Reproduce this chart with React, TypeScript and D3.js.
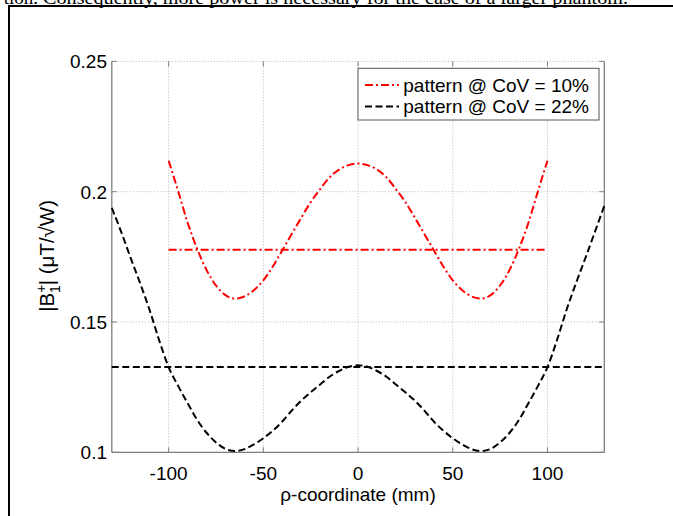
import React from "react";
import * as d3 from "d3";

const redX = [-100,-95,-90,-85,-80,-75,-70,-65,-60,-55,-50,-45,-40,-35,-30,-25,-20,-15,-10,-5,0,5,10,15,20,25,30,35,40,45,50,55,60,65,70,75,80,85,90,95,100];
const redY = [0.2119,0.2003,0.1882,0.1782,0.1700,0.1640,0.1603,0.1590,0.1598,0.1622,0.1660,0.1713,0.1775,0.1838,0.1900,0.1960,0.2010,0.2055,0.2085,0.2102,0.2108,0.2102,0.2085,0.2055,0.2010,0.1960,0.1900,0.1838,0.1775,0.1713,0.1660,0.1622,0.1598,0.1590,0.1603,0.1640,0.1700,0.1782,0.1882,0.2003,0.2119];
const blackX = [-130,-125,-120,-115,-110,-105,-100,-95,-90,-85,-80,-75,-70,-65,-60,-55,-50,-45,-40,-35,-30,-25,-20,-15,-10,-5,0,5,10,15,20,25,30,35,40,45,50,55,60,65,70,75,80,85,90,95,100,105,110,115,120,125,130];
const blackY = [0.1938,0.1845,0.1745,0.1648,0.1545,0.1430,0.1327,0.1255,0.1189,0.1125,0.1075,0.1038,0.1013,0.1005,0.1012,0.1030,0.1054,0.1083,0.1118,0.1160,0.1198,0.1230,0.1260,0.1290,0.1312,0.1328,0.1334,0.1328,0.1312,0.1290,0.1260,0.1230,0.1198,0.1160,0.1118,0.1083,0.1054,0.1030,0.1012,0.1005,0.1013,0.1038,0.1075,0.1125,0.1189,0.1255,0.1327,0.1430,0.1545,0.1648,0.1745,0.1845,0.1946];
const redMean = 0.1777;
const blackMean = 0.1327;
const redRange = [-100, 100];
const blackRange = [-130, 130];
const xTicks = [-100, -50, 0, 50, 100];
const yTicks = [0.1, 0.15, 0.2, 0.25];
const yTickLabels = ["0.1", "0.15", "0.2", "0.25"];
const legendLabels = ["pattern @ CoV = 10%", "pattern @ CoV = 22%"];

const L = 111.8, R = 604.3, T = 61.4, B = 452.3;
const font = "Arial, 'Liberation Sans', sans-serif";

export default function App() {
  const x = d3.scaleLinear().domain([-130, 130]).range([L, R]);
  const y = d3.scaleLinear().domain([0.1, 0.25]).range([B, T]);
  const line = d3.line<[number, number]>().x(d => x(d[0])).y(d => y(d[1])).curve(d3.curveMonotoneX);
  const redPts = redX.map((v, i) => [v, redY[i]] as [number, number]);
  const blackPts = blackX.map((v, i) => [v, blackY[i]] as [number, number]);
  const redDash = "8,3,2,3";
  const blackDash = "7,3.5";
  const axisCol = "#7f7f7f";
  const gridCol = "#b4b4b4";
  return (
    <svg width={673} height={516} style={{ position: "absolute", left: 0, top: 0, background: "#fff" }}>
      <rect x={0} y={0} width={673} height={516} fill="#fff" />
      {/* clipped caption text from page */}
      <text x={38} y={3.5} fontFamily="'Liberation Serif', 'Times New Roman', serif" fontSize={19} textAnchor="end">tion.</text>
      <text x={43} y={3.5} fontFamily="'Liberation Serif', 'Times New Roman', serif" fontSize={19} textLength={585} lengthAdjust="spacingAndGlyphs">Consequently, more power is necessary for the case of a larger phantom.</text>
      {/* outer frame */}
      <line x1={9} y1={6} x2={680} y2={6} stroke="#000" strokeWidth={2} />
      <line x1={9} y1={5} x2={9} y2={520} stroke="#000" strokeWidth={2} />
      {/* grid */}
      {xTicks.map(t => (
        <line key={"gx" + t} x1={x(t)} x2={x(t)} y1={T} y2={B} stroke={gridCol} strokeWidth={1} strokeDasharray="1,2" />
      ))}
      {yTicks.map(t => (
        <line key={"gy" + t} x1={L} x2={R} y1={y(t)} y2={y(t)} stroke={gridCol} strokeWidth={1} strokeDasharray="1,2" />
      ))}
      {/* axes */}
      <line x1={L} x2={L} y1={T} y2={B} stroke={axisCol} strokeWidth={1.3} />
      <line x1={R} x2={R} y1={T} y2={B} stroke={axisCol} strokeWidth={1.3} />
      <line x1={L} x2={R} y1={B} y2={B} stroke={axisCol} strokeWidth={1.3} />
      {xTicks.map(t => (
        <g key={"tx" + t}>
          <line x1={x(t)} x2={x(t)} y1={B} y2={B - 5} stroke={axisCol} />
          <line x1={x(t)} x2={x(t)} y1={T} y2={T + 5} stroke={axisCol} />
          <text x={x(t)} y={480.3} textAnchor="middle" fontFamily={font} fontSize={19}>{t < 0 ? "-" + Math.abs(t) : String(t)}</text>
        </g>
      ))}
      {yTicks.map((t, i) => (
        <g key={"ty" + t}>
          <line x1={L} x2={L + 5} y1={y(t)} y2={y(t)} stroke={axisCol} />
          <line x1={R} x2={R - 5} y1={y(t)} y2={y(t)} stroke={axisCol} />
          <text x={107} y={y(t) + 6.8} textAnchor="end" fontFamily={font} fontSize={19}>{yTickLabels[i]}</text>
        </g>
      ))}
      {/* data */}
      <line x1={x(redRange[0])} x2={x(redRange[1])} y1={y(redMean)} y2={y(redMean)} stroke="#ff0000" strokeWidth={2} strokeDasharray={redDash} />
      <path d={line(redPts) || ""} fill="none" stroke="#ff0000" strokeWidth={2} strokeDasharray={redDash} />
      <line x1={x(blackRange[0])} x2={x(blackRange[1])} y1={y(blackMean)} y2={y(blackMean)} stroke="#000" strokeWidth={2} strokeDasharray={blackDash} />
      <path d={line(blackPts) || ""} fill="none" stroke="#000" strokeWidth={2} strokeDasharray={blackDash} />
      {/* axis labels */}
      <text x={358} y={501} textAnchor="middle" fontFamily={font} fontSize={19}>ρ-coordinate (mm)</text>
      <text transform={`translate(54,${(T + B) / 2 - 1}) rotate(-90)`} textAnchor="middle" fontFamily={font} fontSize={20.5}>
        <tspan>|B</tspan>
        <tspan fontSize={14} dy={-8.5}>+</tspan>
        <tspan fontSize={14} dx={-8.5} dy={14}>1</tspan>
        <tspan dy={-5.5}>| (μT/√W)</tspan>
      </text>
      {/* legend */}
      <rect x={358} y={68.3} width={241} height={51.7} fill="#fff" stroke="#555" strokeWidth={1} />
      <line x1={365} x2={399} y1={85} y2={85} stroke="#ff0000" strokeWidth={2} strokeDasharray={redDash} />
      <line x1={365} x2={399} y1={106.5} y2={106.5} stroke="#000" strokeWidth={2} strokeDasharray={blackDash} />
      <text x={403.3} y={91.8} fontFamily={font} fontSize={19}>{legendLabels[0]}</text>
      <text x={403.3} y={113.3} fontFamily={font} fontSize={19}>{legendLabels[1]}</text>
    </svg>
  );
}
